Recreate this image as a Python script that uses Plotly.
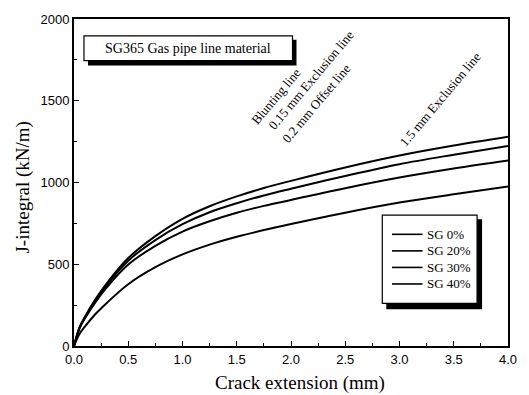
import plotly.graph_objects as go

# Crack extension (mm)
crack_ext = [0.0, 0.05, 0.1, 0.2, 0.3, 0.5, 0.75, 1.0, 1.25, 1.5, 1.75, 2.0, 2.5, 3.0, 3.5, 4.0]

# J-integral (kN/m)
sg0 = [0, 112, 178, 288, 382, 538, 672, 778, 855, 915, 966, 1010, 1092, 1165, 1226, 1280]
sg20 = [0, 110, 174, 281, 372, 522, 648, 745, 818, 873, 921, 962, 1040, 1112, 1170, 1224]
sg30 = [0, 106, 168, 270, 357, 498, 613, 700, 763, 815, 857, 893, 965, 1030, 1085, 1134]
sg40 = [0, 74, 118, 197, 262, 378, 482, 560, 620, 668, 709, 746, 815, 877, 928, 976]

series_names = ["SG 0%", "SG 20%", "SG 30%", "SG 40%"]
series_vals = [sg0, sg20, sg30, sg40]

x_ticks = [0.0, 0.5, 1.0, 1.5, 2.0, 2.5, 3.0, 3.5, 4.0]
y_ticks = [0, 500, 1000, 1500, 2000]

line_labels = ["Blunting line", "0.15 mm Exclusion line", "0.2 mm Offset line", "1.5 mm Exclusion line"]
label_x = [1.86, 2.18, 2.23, 3.37]
label_y = [1525, 1625, 1485, 1510]

SERIF = "Liberation Serif, Times New Roman, serif"
SANS = "Liberation Sans, Arial, sans-serif"

fig = go.Figure()
for name, vals in zip(series_names, series_vals):
    fig.add_trace(go.Scatter(
        x=crack_ext, y=vals, mode="lines", name=name, showlegend=False,
        line=dict(color="black", width=2, shape="spline", smoothing=1.0),
    ))

W, H = 529, 395
L, R, T, B = 74, 20, 16, 49
pw, ph = W - L - R, H - T - B

def px(xp):
    return (xp - L) / pw

def py(yp):
    return (H - B - yp) / ph

shapes = []
# title box shadow + box
shapes.append(dict(type="rect", xref="paper", yref="paper",
                   x0=px(88), x1=px(297), y0=py(63), y1=py(37),
                   fillcolor="black", line=dict(width=0), layer="above"))
shapes.append(dict(type="rect", xref="paper", yref="paper",
                   x0=px(84), x1=px(293), y0=py(58), y1=py(33),
                   fillcolor="white", line=dict(color="black", width=1.2), layer="above"))
# legend box shadow + box
shapes.append(dict(type="rect", xref="paper", yref="paper",
                   x0=px(387), x1=px(483), y0=py(309), y1=py(218),
                   fillcolor="black", line=dict(width=0), layer="above"))
shapes.append(dict(type="rect", xref="paper", yref="paper",
                   x0=px(383), x1=px(478), y0=py(303), y1=py(214),
                   fillcolor="white", line=dict(color="black", width=1.2), layer="above"))

annotations = [
    dict(text="SG365 Gas pipe line material", xref="paper", yref="paper",
         x=px(188.5), y=py(45.5), showarrow=False,
         font=dict(family=SERIF, size=14, color="black"), xanchor="center", yanchor="middle"),
    dict(text="Crack extension (mm)", xref="paper", yref="paper",
         x=px(301), y=py(383), showarrow=False,
         font=dict(family=SERIF, size=19, color="black"), xanchor="center", yanchor="middle"),
    dict(text="J-integral (kN/m)", xref="paper", yref="paper",
         x=px(23), y=py(186), showarrow=False, textangle=-90,
         font=dict(family=SERIF, size=19, color="black"), xanchor="center", yanchor="middle"),
]
for t, xx, yy in zip(line_labels, label_x, label_y):
    annotations.append(dict(text=t, x=xx, y=yy, xref="x", yref="y", showarrow=False,
                            textangle=-50, font=dict(family=SERIF, size=13, color="black")))

# legend entries (drawn inside the shadowed legend box)
leg_row0, leg_step = 233.3, 16.7
for i, name in enumerate(series_names):
    yy = leg_row0 + i * leg_step
    shapes.append(dict(type="line", xref="paper", yref="paper",
                       x0=px(392.7), x1=px(423.3), y0=py(yy), y1=py(yy),
                       line=dict(color="black", width=1.6), layer="above"))
    annotations.append(dict(text=name, xref="paper", yref="paper",
                            x=px(426), y=py(yy), xanchor="left", yanchor="middle",
                            showarrow=False,
                            font=dict(family=SERIF, size=13, color="black")))

fig.update_layout(
    width=W, height=H,
    margin=dict(l=L, r=R, t=T, b=B, pad=0),
    plot_bgcolor="white", paper_bgcolor="white",
    shapes=shapes, annotations=annotations,
    showlegend=False,
    xaxis=dict(range=[0, 4], tickvals=x_ticks, ticktext=[f"{v:.1f}" for v in x_ticks],
               ticks="inside", ticklen=5, tickwidth=1.3, tickcolor="black",
               showline=True, linecolor="black", linewidth=1.8, mirror=True,
               showgrid=False, zeroline=False,
               minor=dict(ticks="inside", ticklen=3, dtick=0.25, tickcolor="black", tickwidth=1),
               tickfont=dict(family=SANS, size=13, color="black")),
    yaxis=dict(range=[0, 2000], tickvals=y_ticks,
               ticks="inside", ticklen=5, tickwidth=1.3, tickcolor="black",
               showline=True, linecolor="black", linewidth=1.8, mirror=True,
               showgrid=False, zeroline=False,
               minor=dict(ticks="inside", ticklen=3, dtick=250, tickcolor="black", tickwidth=1),
               tickfont=dict(family=SANS, size=13, color="black")),
)

fig.write_html("out.html")
